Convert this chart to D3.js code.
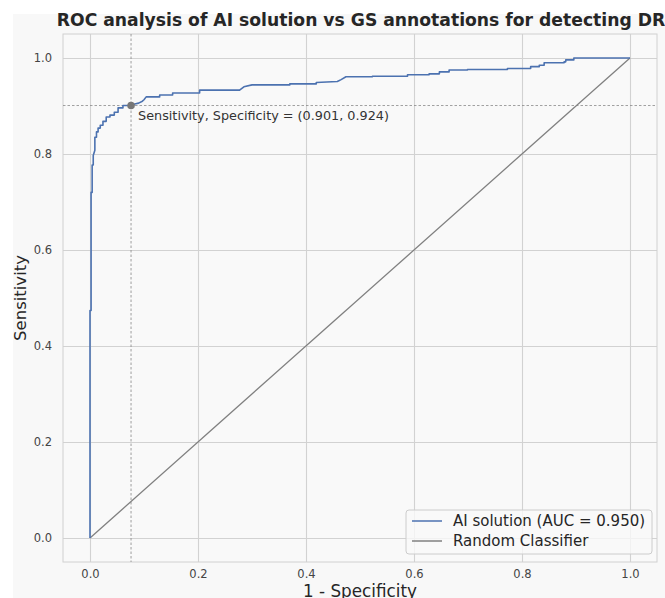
<!DOCTYPE html>
<html>
<head>
<meta charset="utf-8">
<script src="https://cdn.jsdelivr.net/npm/d3@7"></script>
<style>
  html, body { margin: 0; padding: 0; background: #ffffff; }
  svg { display: block; font-family: "DejaVu Sans", sans-serif; }
</style>
</head>
<body>
<svg id="chart" width="665" height="598"></svg>
<script>
// ---- data ----
const rocFpr = [0, 0, 0.002, 0.002, 0.004, 0.004, 0.006, 0.006, 0.009, 0.009, 0.012, 0.012, 0.015, 0.015, 0.019, 0.019, 0.024, 0.024, 0.030, 0.030, 0.037, 0.037, 0.045, 0.045, 0.052, 0.052, 0.061, 0.061, 0.076, 0.083, 0.090, 0.097, 0.100, 0.104, 0.129, 0.129, 0.153, 0.153, 0.203, 0.203, 0.277, 0.285, 0.300, 0.370, 0.370, 0.419, 0.419, 0.458, 0.465, 0.474, 0.523, 0.523, 0.588, 0.588, 0.628, 0.628, 0.647, 0.647, 0.665, 0.665, 0.699, 0.699, 0.773, 0.773, 0.816, 0.816, 0.832, 0.832, 0.841, 0.841, 0.878, 0.878, 0.881, 0.881, 0.896, 0.896, 1.0];
const rocTpr = [0, 0.474, 0.474, 0.720, 0.720, 0.777, 0.777, 0.797, 0.808, 0.835, 0.835, 0.846, 0.846, 0.854, 0.854, 0.860, 0.860, 0.868, 0.868, 0.877, 0.877, 0.881, 0.881, 0.887, 0.887, 0.896, 0.896, 0.901, 0.901, 0.904, 0.906, 0.910, 0.913, 0.919, 0.919, 0.923, 0.923, 0.927, 0.927, 0.933, 0.933, 0.940, 0.944, 0.944, 0.946, 0.946, 0.949, 0.951, 0.955, 0.961, 0.961, 0.962, 0.962, 0.965, 0.965, 0.967, 0.967, 0.971, 0.971, 0.975, 0.975, 0.976, 0.976, 0.978, 0.978, 0.982, 0.982, 0.985, 0.985, 0.990, 0.990, 0.992, 0.992, 0.996, 0.996, 1.0, 1.0];
const randomX = [0, 1];
const randomY = [0, 1];
const opPoint = { sensitivity: 0.901, specificity: 0.924 };
const xTicks = [0.0, 0.2, 0.4, 0.6, 0.8, 1.0];
const yTicks = [0.0, 0.2, 0.4, 0.6, 0.8, 1.0];
const titleText = "ROC analysis of AI solution vs GS annotations for detecting DR";
const xLabel = "1 - Specificity";
const yLabel = "Sensitivity";
const legendLabels = ["AI solution (AUC = 0.950)", "Random Classifier"];
const annotText = "Sensitivity, Specificity = (0.901, 0.924)";

// ---- layout ----
const svg = d3.select("#chart");
const L = 63, R = 657, T = 34, B = 562;
const x = d3.scaleLinear().domain([-0.05, 1.05]).range([L, R]);
const y = d3.scaleLinear().domain([-0.05, 1.05]).range([B, T]);
const blue = "#4c72b0", grey = "#808080";

svg.append("rect").attr("x", 13).attr("y", 14).attr("width", 652).attr("height", 584).attr("fill", "#f8f8f8");
svg.append("rect").attr("x", L).attr("y", T).attr("width", R - L).attr("height", B - T).attr("fill", "#f9f9f9");

// grid
const gx = svg.append("g").attr("transform", `translate(0,${B})`)
  .call(d3.axisBottom(x).tickValues(xTicks).tickFormat(d3.format(".1f")).tickSize(-(B - T)).tickPadding(8));
const gy = svg.append("g").attr("transform", `translate(${L},0)`)
  .call(d3.axisLeft(y).tickValues(yTicks).tickFormat(d3.format(".1f")).tickSize(-(R - L)).tickPadding(11));
[gx, gy].forEach(g => {
  g.select(".domain").remove();
  g.selectAll(".tick line").attr("stroke", "#d2d2d2").attr("stroke-width", 1.1);
  g.selectAll(".tick text").attr("fill", "#444").attr("font-size", 11.5).attr("font-family", "DejaVu Sans");
});
gx.selectAll(".tick text").attr("dy", "0.71em");

// frame
svg.append("rect").attr("x", L).attr("y", T).attr("width", R - L).attr("height", B - T)
  .attr("fill", "none").attr("stroke", "#d0d0d0").attr("stroke-width", 1);

// operating point dashed lines
svg.append("line").attr("x1", L).attr("x2", R).attr("y1", y(opPoint.sensitivity)).attr("y2", y(opPoint.sensitivity))
  .attr("stroke", "#888").attr("stroke-width", 0.8).attr("stroke-dasharray", "2.5,2");
svg.append("line").attr("x1", x(1 - opPoint.specificity)).attr("x2", x(1 - opPoint.specificity)).attr("y1", T).attr("y2", B)
  .attr("stroke", "#888").attr("stroke-width", 0.8).attr("stroke-dasharray", "2.5,2");

// random classifier
const line = d3.line().x(d => x(d[0])).y(d => y(d[1]));
svg.append("path").datum(d3.zip(randomX, randomY)).attr("d", line)
  .attr("fill", "none").attr("stroke", grey).attr("stroke-width", 1.3);

// ROC curve
svg.append("path").datum(d3.zip(rocFpr, rocTpr)).attr("d", line)
  .attr("fill", "none").attr("stroke", blue).attr("stroke-width", 1.6).attr("stroke-linejoin", "round");

// operating point marker
svg.append("circle").attr("cx", x(1 - opPoint.specificity)).attr("cy", y(opPoint.sensitivity)).attr("r", 3.8)
  .attr("fill", "#777");
svg.append("text").attr("x", x(1 - opPoint.specificity) + 7).attr("y", y(opPoint.sensitivity) + 14)
  .attr("font-size", 12.8).attr("fill", "#333").text(annotText);

// title and labels
svg.append("text").attr("x", 361).attr("y", 26).attr("text-anchor", "middle")
  .attr("font-size", 17.2).attr("font-weight", "bold").attr("fill", "#262626").text(titleText);
svg.append("text").attr("x", (L + R) / 2).attr("y", 597).attr("text-anchor", "middle")
  .attr("font-size", 16.8).attr("fill", "#262626").text(xLabel);
svg.append("text").attr("transform", `translate(26,${(T + B) / 2}) rotate(-90)`).attr("text-anchor", "middle")
  .attr("font-size", 16.5).attr("fill", "#262626").text(yLabel);

// legend
const lg = svg.append("g");
lg.append("rect").attr("x", 406).attr("y", 510).attr("width", 246).attr("height", 44).attr("rx", 3)
  .attr("fill", "#f9f9f9").attr("fill-opacity", 0.8).attr("stroke", "#cccccc");
[blue, grey].forEach((c, i) => {
  const yy = 521 + i * 20;
  lg.append("line").attr("x1", 412).attr("x2", 442).attr("y1", yy).attr("y2", yy).attr("stroke", c).attr("stroke-width", 1.5);
  lg.append("text").attr("x", 453).attr("y", yy + 5).attr("font-size", 15).attr("fill", "#262626").text(legendLabels[i]);
});
</script>
</body>
</html>
